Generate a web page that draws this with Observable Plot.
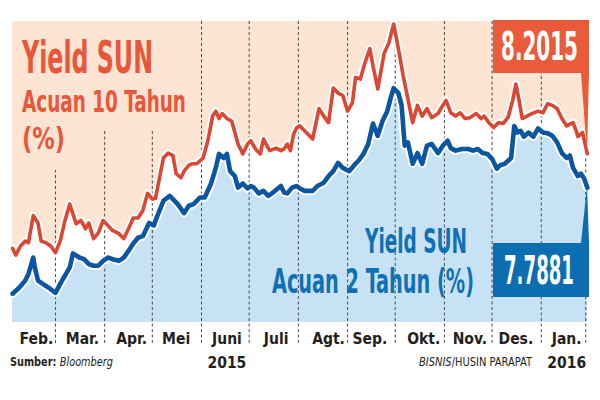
<!DOCTYPE html>
<html><head><meta charset="utf-8">
<script src="https://cdn.jsdelivr.net/npm/d3@7"></script>
<script src="https://cdn.jsdelivr.net/npm/@observablehq/plot@0.6"></script>
<style>
body{margin:0;background:#fff;}
#wrap{position:relative;width:600px;height:400px;overflow:hidden;background:#fff;
 font-family:"Liberation Sans Narrow","DejaVu Sans Condensed","Roboto",sans-serif;}
.t{position:absolute;white-space:nowrap;line-height:1;}
.box{position:absolute;}
</style></head><body><div id="wrap"></div>
<script>
// ---- data: Yield SUN acuan 10 tahun (%)
const tenYDates = [
"2015-02-02","2015-02-04","2015-02-07","2015-02-10","2015-02-12","2015-02-15","2015-02-18","2015-02-20","2015-02-23","2015-02-26",
"2015-03-01","2015-03-04","2015-03-07","2015-03-10","2015-03-14","2015-03-17","2015-03-20","2015-03-22","2015-03-25","2015-03-28","2015-03-31",
"2015-04-03","2015-04-06","2015-04-10","2015-04-13","2015-04-16","2015-04-19","2015-04-22","2015-04-25","2015-04-28",
"2015-05-01","2015-05-03","2015-05-08","2015-05-11","2015-05-14","2015-05-16","2015-05-19","2015-05-21","2015-05-24","2015-05-26","2015-05-29",
"2015-06-02","2015-06-05","2015-06-08","2015-06-10","2015-06-12","2015-06-14","2015-06-17","2015-06-20","2015-06-22","2015-06-24","2015-06-27","2015-06-30",
"2015-07-02","2015-07-05","2015-07-08","2015-07-10","2015-07-13","2015-07-14","2015-07-18","2015-07-21","2015-07-23","2015-07-25","2015-07-27","2015-07-29","2015-07-31",
"2015-08-02","2015-08-05","2015-08-10","2015-08-14","2015-08-17","2015-08-20","2015-08-23","2015-08-26","2015-08-29",
"2015-09-01","2015-09-04","2015-09-06","2015-09-09","2015-09-12","2015-09-15","2015-09-17","2015-09-20","2015-09-24","2015-09-27","2015-09-30",
"2015-10-03","2015-10-06","2015-10-09","2015-10-12","2015-10-15","2015-10-18","2015-10-21","2015-10-24","2015-10-28","2015-10-30",
"2015-11-02","2015-11-05","2015-11-08","2015-11-11","2015-11-14","2015-11-17","2015-11-21","2015-11-24","2015-11-26","2015-11-29",
"2015-12-02","2015-12-05","2015-12-08","2015-12-11","2015-12-14","2015-12-16","2015-12-18","2015-12-20","2015-12-23","2015-12-26","2015-12-30",
"2016-01-02","2016-01-05","2016-01-08","2016-01-11","2016-01-14","2016-01-17","2016-01-21","2016-01-23","2016-01-24","2016-01-27","2016-01-30"];
const tenYVals = [
7.05,6.97,7.08,7.14,7.12,7.45,7.36,7.14,7.12,7.08,
7.00,7.14,7.39,7.59,7.35,7.39,7.29,7.36,7.17,7.24,7.39,
7.33,7.27,7.23,7.17,7.29,7.42,7.42,7.51,7.72,
7.65,7.66,8.15,8.21,8.18,7.96,7.91,7.99,8.06,8.08,8.08,
8.15,8.36,8.66,8.72,8.63,8.69,8.63,8.60,8.46,8.32,8.20,8.32,
8.36,8.26,8.20,8.38,8.27,8.24,8.27,8.24,8.26,8.32,8.24,8.44,8.52,
8.54,8.48,8.38,8.75,8.66,8.58,9.00,8.94,8.91,
8.72,8.82,9.13,9.11,9.31,9.48,9.27,8.99,9.42,9.55,9.78,
9.48,9.15,8.87,8.58,8.79,8.66,8.75,8.64,8.69,8.76,
8.85,8.70,8.66,8.70,8.63,8.64,8.69,8.63,8.66,8.58,
8.52,8.58,8.57,8.64,8.85,9.05,8.85,8.63,8.66,8.69,8.72,
8.70,8.81,8.79,8.75,8.63,8.54,8.58,8.48,8.41,8.46,8.2015];

// ---- data: Yield SUN acuan 2 tahun (%)
const twoYDates = [
"2015-02-02","2015-02-06","2015-02-10","2015-02-12","2015-02-15","2015-02-16","2015-02-18","2015-02-21","2015-02-25",
"2015-03-01","2015-03-04","2015-03-07","2015-03-10","2015-03-12","2015-03-16","2015-03-19","2015-03-22","2015-03-25","2015-03-28","2015-03-31",
"2015-04-03","2015-04-06","2015-04-10","2015-04-13","2015-04-16","2015-04-19","2015-04-22","2015-04-25","2015-04-29",
"2015-05-02","2015-05-03","2015-05-08","2015-05-12","2015-05-17","2015-05-21","2015-05-24","2015-05-27","2015-05-31",
"2015-06-03","2015-06-07","2015-06-10","2015-06-12","2015-06-15","2015-06-17","2015-06-19","2015-06-22","2015-06-24","2015-06-27","2015-06-30",
"2015-07-02","2015-07-04","2015-07-07","2015-07-10","2015-07-13","2015-07-16","2015-07-19","2015-07-21","2015-07-23","2015-07-25","2015-07-28","2015-07-31",
"2015-08-02","2015-08-05","2015-08-10","2015-08-13","2015-08-17","2015-08-20","2015-08-23","2015-08-26","2015-08-29",
"2015-09-02","2015-09-05","2015-09-08","2015-09-11","2015-09-14","2015-09-17","2015-09-20","2015-09-23","2015-09-26","2015-09-28","2015-09-30",
"2015-10-03","2015-10-05","2015-10-07","2015-10-09","2015-10-12","2015-10-15","2015-10-18","2015-10-21","2015-10-24","2015-10-28","2015-10-31",
"2015-11-03","2015-11-05","2015-11-08","2015-11-12","2015-11-16","2015-11-19","2015-11-22","2015-11-25","2015-11-28",
"2015-12-01","2015-12-04","2015-12-06","2015-12-09","2015-12-13","2015-12-15","2015-12-17","2015-12-19","2015-12-21","2015-12-24","2015-12-27","2015-12-30",
"2016-01-02","2016-01-05","2016-01-08","2016-01-11","2016-01-14","2016-01-17","2016-01-19","2016-01-21","2016-01-24","2016-01-26","2016-01-28","2016-01-30"];
const twoYVals = [
6.50,6.57,6.66,6.74,6.94,6.82,6.66,6.62,6.57,
6.51,6.62,6.72,6.82,6.99,6.94,6.92,6.86,6.84,6.84,6.90,
6.94,6.92,6.90,6.94,7.02,7.11,7.18,7.20,7.36,
7.33,7.39,7.63,7.69,7.59,7.48,7.57,7.59,7.67,
7.67,7.84,8.03,8.20,8.15,8.20,7.99,7.93,7.79,7.84,7.78,
7.81,7.79,7.72,7.75,7.69,7.73,7.78,7.81,7.73,7.72,7.79,7.81,
7.78,7.75,7.75,7.81,7.85,7.93,7.99,8.09,8.03,
7.99,8.06,8.12,8.20,8.32,8.57,8.42,8.60,8.72,8.87,9.00,
8.94,8.79,8.30,8.34,8.08,8.21,8.08,8.30,8.32,8.21,8.30,
8.36,8.27,8.24,8.26,8.26,8.24,8.26,8.21,8.20,
8.14,8.02,8.06,8.08,8.15,8.54,8.46,8.48,8.41,8.46,8.41,8.51,
8.46,8.45,8.42,8.34,8.21,8.15,8.18,8.03,7.93,7.96,7.90,7.7881];

// ---- axis: month labels and separators
const monthLabels = ["Feb.","Mar.","Apr.","Mei","Juni\n2015","Juli","Agt.","Sep.","Okt.","Nov.","Des.","Jan.\n2016"];
const monthLabelDates = ["2015-02-17","2015-03-18","2015-04-18","2015-05-16","2015-06-17","2015-07-18","2015-08-20","2015-09-15","2015-10-19","2015-11-17","2015-12-16","2016-01-17"];
const monthBounds = ["2015-03-01","2015-04-01","2015-05-01","2015-06-01","2015-07-01","2015-08-01","2015-09-01","2015-10-01","2015-11-01","2015-12-01","2016-01-01","2016-01-29"];
const lastTen = "8.2015";
const lastTwo = "7.7881";

const ten = tenYDates.map((d,i)=>({date:new Date(d), v:tenYVals[i]}));
const two = twoYDates.map((d,i)=>({date:new Date(d), v:twoYVals[i]}));
const yMin = 6.15, yMax = 9.81;

const FONT = '"Liberation Sans Narrow","DejaVu Sans Condensed","Roboto",sans-serif';
const C = {peach:"#fde4d3", sky:"#c7e2f5", red:"#dc4734", blue:"#0b56a2", redText:"#e9573a", blueText:"#1070b5", redBox:"#ea5b3b", blueBox:"#0c6db0", ink:"#231f20"};

const wrap = document.getElementById("wrap");
const chart = Plot.plot({
  width:600, height:400,
  marginTop:21, marginBottom:78, marginLeft:10.5, marginRight:10,
  x:{type:"utc", domain:[new Date("2015-02-01"), new Date("2016-02-01")], axis:null},
  y:{domain:[yMin,yMax], axis:null},
  style:{background:"transparent", fontFamily:FONT, overflow:"visible"},
  marks:[
    Plot.areaY(ten,{x:"date", y1:"v", y2:yMax, fill:C.peach}),
    Plot.areaY(two,{x:"date", y1:yMin, y2:"v", fill:C.sky}),
    Plot.ruleX(monthBounds.map(d=>new Date(d)),{x:d=>d, stroke:"#4a4a4a", strokeWidth:1, strokeDasharray:"3,2.5", insetBottom:-21}),
    Plot.lineY(ten,{x:"date", y:"v", stroke:"#fff", strokeWidth:7.5, strokeLinejoin:"round"}),
    Plot.lineY(two,{x:"date", y:"v", stroke:"#fff", strokeWidth:8.5, strokeLinejoin:"round"}),
    Plot.lineY(ten,{x:"date", y:"v", stroke:C.red, strokeWidth:3.6, strokeLinejoin:"round"}),
    Plot.lineY(two,{x:"date", y:"v", stroke:C.blue, strokeWidth:4.6, strokeLinejoin:"round"}),
    Plot.text(monthLabels,{x:(d,i)=>new Date(monthLabelDates[i]), y:yMin, text:d=>d, lineAnchor:"top", dy:4.5,
      fontSize:15.5, fontWeight:"bold", fill:C.ink, lineHeight:1.55, fontFamily:FONT})
  ]
});
chart.style.position="absolute"; chart.style.left="0"; chart.style.top="0";
wrap.appendChild(chart);

// masks behind the title (hide separators there)
function rect(x,y,w,h,bg,clip){
  const d=document.createElement("div"); d.className="box";
  Object.assign(d.style,{left:x+"px",top:y+"px",width:w+"px",height:h+"px",background:bg});
  if(clip) d.style.clipPath=clip;
  wrap.appendChild(d); return d;
}
rect(12,21,180,109,C.peach);
rect(12,130,58,40,C.peach);
// value boxes with pointers
rect(493,20,96,134,C.redBox,"polygon(0 0,96px 0,96px 53px,94px 133px,88px 53px,0 53px)");
rect(493,186,96,111,C.blueBox,"polygon(0 57px,88px 57px,94px 0,96px 57px,96px 111px,0 111px)");

function addText(html,x,base,size,w,color,weight,style){
  const d=document.createElement("div"); d.className="t"; d.innerHTML=html;
  Object.assign(d.style,{left:x+"px",top:(base-0.845*size)+"px",fontSize:size+"px",color:color,fontWeight:weight||700,fontStyle:style||"normal"});
  wrap.appendChild(d);
  const bw=d.getBoundingClientRect().width;
  if(w){d.style.transformOrigin="0 0"; d.style.transform="scaleX("+(w/bw)+")";}
  return d;
}
addText("Yield SUN",22,73,44,131,C.redText);
addText("Acuan 10 Tahun",22,112.7,30.5,164,C.redText);
addText("(%)",22,150,30.5,43,C.redText);
addText("Yield SUN",365,253.3,34.5,102,C.blueText);
addText("Acuan 2 Tahun (%)",272,292.7,34,202,C.blueText);
addText(lastTen,501,61,38.5,77,"#fff");
addText(lastTwo,504,285,38.5,70,"#fff");
addText("Sumber: <i style='font-weight:400'>Bloomberg</i>",10,366,12,103,C.ink);
addText("<i>BISNIS</i>/HUSIN PARAPAT",419,366.5,11.5,113,C.ink,400);
</script></body></html>
